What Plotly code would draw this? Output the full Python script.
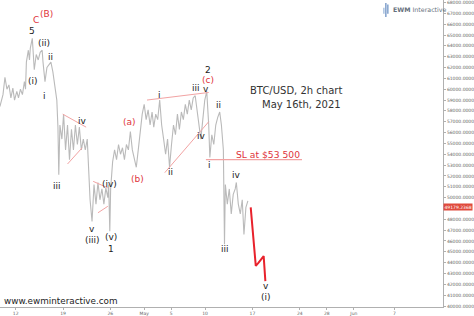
import plotly.graph_objects as go

# ---------------- data ----------------
price_dates = [
    "2021-04-09 16:00", "2021-04-10 03:00", "2021-04-10 10:00", "2021-04-10 17:00", "2021-04-11 00:00",
    "2021-04-11 07:00", "2021-04-11 14:00", "2021-04-11 20:00", "2021-04-12 04:00", "2021-04-12 10:00",
    "2021-04-12 17:00", "2021-04-13 00:00", "2021-04-13 07:00", "2021-04-13 11:00", "2021-04-13 14:00",
    "2021-04-13 21:00", "2021-04-14 01:00", "2021-04-14 04:00", "2021-04-14 11:00", "2021-04-14 15:00",
    "2021-04-14 18:00", "2021-04-15 01:00", "2021-04-15 08:00", "2021-04-15 15:00", "2021-04-15 22:00",
    "2021-04-16 01:00", "2021-04-16 08:00", "2021-04-16 15:00", "2021-04-16 22:00", "2021-04-17 05:00",
    "2021-04-17 12:00", "2021-04-17 19:00", "2021-04-18 02:00", "2021-04-18 06:00", "2021-04-18 09:00",
    "2021-04-18 13:00", "2021-04-18 20:00", "2021-04-19 02:00", "2021-04-19 09:00", "2021-04-19 16:00",
    "2021-04-19 23:00", "2021-04-20 06:00", "2021-04-20 13:00", "2021-04-20 20:00", "2021-04-21 03:00",
    "2021-04-21 10:00", "2021-04-21 17:00", "2021-04-22 00:00", "2021-04-22 07:00", "2021-04-22 14:00",
    "2021-04-22 17:00", "2021-04-23 00:00", "2021-04-23 07:00", "2021-04-23 14:00", "2021-04-23 21:00",
    "2021-04-24 04:00", "2021-04-24 11:00", "2021-04-24 18:00", "2021-04-25 01:00", "2021-04-25 08:00",
    "2021-04-25 15:00", "2021-04-25 18:00", "2021-04-25 22:00", "2021-04-26 01:00", "2021-04-26 08:00",
    "2021-04-26 15:00", "2021-04-26 22:00", "2021-04-27 05:00", "2021-04-27 12:00", "2021-04-27 19:00",
    "2021-04-28 02:00", "2021-04-28 09:00", "2021-04-28 16:00", "2021-04-28 23:00", "2021-04-29 06:00",
    "2021-04-29 13:00", "2021-04-29 20:00", "2021-04-30 03:00", "2021-04-30 10:00", "2021-04-30 17:00",
    "2021-05-01 00:00", "2021-05-01 07:00", "2021-05-01 14:00", "2021-05-01 21:00", "2021-05-02 04:00",
    "2021-05-02 10:00", "2021-05-02 17:00", "2021-05-03 00:00", "2021-05-03 07:00", "2021-05-03 14:00",
    "2021-05-03 21:00", "2021-05-04 04:00", "2021-05-04 11:00", "2021-05-04 18:00", "2021-05-05 01:00",
    "2021-05-05 08:00", "2021-05-05 15:00", "2021-05-05 22:00", "2021-05-06 05:00", "2021-05-06 12:00",
    "2021-05-06 19:00", "2021-05-07 02:00", "2021-05-07 09:00", "2021-05-07 16:00", "2021-05-07 23:00",
    "2021-05-08 06:00", "2021-05-08 13:00", "2021-05-08 20:00", "2021-05-09 02:00", "2021-05-09 09:00",
    "2021-05-09 16:00", "2021-05-09 23:00", "2021-05-10 06:00", "2021-05-10 10:00", "2021-05-10 13:00",
    "2021-05-10 17:00", "2021-05-11 00:00", "2021-05-11 07:00", "2021-05-11 14:00", "2021-05-11 21:00",
    "2021-05-12 04:00", "2021-05-12 10:00", "2021-05-12 17:00", "2021-05-12 21:00", "2021-05-13 00:00",
    "2021-05-13 07:00", "2021-05-13 14:00", "2021-05-13 21:00", "2021-05-14 04:00", "2021-05-14 11:00",
    "2021-05-14 15:00", "2021-05-14 22:00", "2021-05-15 05:00", "2021-05-15 12:00", "2021-05-15 18:00",
    "2021-05-16 01:00", "2021-05-16 08:00",
]
price_values = [
    58400, 59500, 61100, 60000, 60400,
    59200, 60100, 59000, 59800, 59200,
    60000, 59500, 60700, 60000, 62500,
    63600, 62700, 63800, 64700, 63200,
    61800, 63200, 62700, 63400, 63600,
    62500, 60700, 62000, 62300, 62500,
    61600, 60400, 59000, 56500, 52100,
    56700, 55400, 57700, 54400, 56700,
    53500, 56300, 54400, 56700, 54900,
    56500, 54400, 55400, 54400, 55400,
    53500, 49800, 47800, 51200, 49400,
    51400, 49800, 50800, 49400, 50900,
    50000, 51200, 46900, 50800, 53300,
    54400, 53500, 54900, 54000, 54600,
    53500, 54900, 54400, 56100, 54400,
    53500, 52800, 54400, 56300, 57700,
    58600, 57200, 58100, 56700, 57900,
    56500, 57700, 57200, 59000, 56700,
    55400, 54000, 55400, 52800, 54900,
    56700, 55800, 57700, 56300, 57900,
    57200, 58600, 57700, 59000, 58100,
    59200, 59400, 58100, 56700, 55400,
    57200, 59000, 59800, 58100, 56700,
    53700, 55800, 54900, 56700, 57400,
    57900, 56700, 54400, 45700, 51200,
    49400, 50800, 48500, 50300, 50800,
    51400, 49400, 48500, 49800, 46600,
    49100, 49700,
]

projection_dates = ["2021-05-16 18:00", "2021-05-17 12:00", "2021-05-17 22:00", "2021-05-18 16:00", "2021-05-18 22:00"]
projection_values = [49100, 43700, 44000, 44600, 42300]

trend_lines = [
    (["2021-04-18 23:00", "2021-04-22 10:00"], [57700, 56500]),
    (["2021-04-19 16:00", "2021-04-21 20:00"], [53100, 54600]),
    (["2021-04-23 11:00", "2021-04-25 15:00"], [51500, 50900]),
    (["2021-04-24 04:00", "2021-04-25 15:00"], [48600, 49200]),
    (["2021-05-01 10:00", "2021-05-10 13:00"], [59000, 59700]),
    (["2021-05-04 01:00", "2021-05-10 13:00"], [52300, 57000]),
]
stop_loss_dates = ["2021-05-10 03:00", "2021-05-24 08:00"]
stop_loss_value = 53500

# wave labels: text, date, price, colour key
wave_labels = [
    ("5", "2021-04-14 11:00", 65380, "k"),
    ("C", "2021-04-15 01:00", 66390, "r"),
    ("(B)", "2021-04-16 12:00", 66940, "r"),
    ("(ii)", "2021-04-16 05:00", 64280, "k"),
    ("(i)", "2021-04-14 15:00", 60780, "k"),
    ("ii", "2021-04-17 05:00", 62990, "k"),
    ("i", "2021-04-16 08:00", 59400, "k"),
    ("iv", "2021-04-21 20:00", 57100, "k"),
    ("iii", "2021-04-18 02:00", 51040, "k"),
    ("(a)", "2021-04-28 20:00", 57010, "r"),
    ("(b)", "2021-04-29 23:00", 51680, "r"),
    ("(iv)", "2021-04-25 22:00", 51220, "k"),
    ("v", "2021-04-23 07:00", 47080, "k"),
    ("(iii)", "2021-04-23 07:00", 46070, "k"),
    ("(v)", "2021-04-26 01:00", 46350, "k"),
    ("1", "2021-04-26 01:00", 45240, "k"),
    ("i", "2021-05-03 07:00", 59500, "k"),
    ("iii", "2021-05-08 16:00", 60140, "k"),
    ("v", "2021-05-10 03:00", 60050, "k"),
    ("(c)", "2021-05-10 10:00", 60870, "r"),
    ("2", "2021-05-10 10:00", 61790, "k"),
    ("ii", "2021-05-12 00:00", 58580, "k"),
    ("iv", "2021-05-09 13:00", 55720, "k"),
    ("ii", "2021-05-04 22:00", 52320, "k"),
    ("i", "2021-05-10 17:00", 52970, "k"),
    ("SL at $53 500", "2021-05-19 07:00", 53980, "r"),
    ("iv", "2021-05-14 15:00", 52050, "k"),
    ("iii", "2021-05-12 21:00", 45240, "k"),
    ("v", "2021-05-19 02:00", 41840, "k"),
    ("(i)", "2021-05-19 02:00", 40830, "k"),
]

x_tick_dates = ["2021-04-12", "2021-04-19", "2021-04-26", "2021-05-01", "2021-05-05", "2021-05-10",
                "2021-05-17", "2021-05-24", "2021-05-28", "2021-06-01", "2021-06-07"]
x_tick_text = ["12", "19", "26", "May", "5", "10", "17", "24", "28", "Jun", "7"]
y_tick_values = list(range(40000, 68001, 1000))
last_price_text = "49179.2368"
last_price_value = 49179
# the 49000 label sits under the last-price tag in the reference, so it is not shown
y_tick_text = ["" if v == 49000 else f"{v}.0000" for v in y_tick_values]

# ---------------- figure ----------------
RED = "#e0333b"
PINK = "#f2a3a3"
fig = go.Figure()

fig.add_trace(go.Scatter(x=price_dates, y=price_values, mode="lines",
                         line=dict(color="#bababa", width=1.1), hoverinfo="skip"))
for xs, ys in trend_lines:
    fig.add_trace(go.Scatter(x=xs, y=ys, mode="lines", line=dict(color=PINK, width=1), hoverinfo="skip"))
fig.add_trace(go.Scatter(x=stop_loss_dates, y=[stop_loss_value] * 2, mode="lines",
                         line=dict(color=PINK, width=1.2), hoverinfo="skip"))
fig.add_trace(go.Scatter(x=projection_dates, y=projection_values, mode="lines",
                         line=dict(color="#e8222c", width=2), hoverinfo="skip"))

annotations = []
for text, d, p, c in wave_labels:
    size = 9.2 if text.startswith("SL") else 9
    annotations.append(dict(x=d, y=p, xref="x", yref="y", text=text, showarrow=False,
                            font=dict(family="DejaVu Sans", size=size,
                                      color=RED if c == "r" else "#222222"),
                            xanchor="center", yanchor="middle"))

annotations += [
    dict(x=0.777, y=0.731, xref="paper", yref="paper", text="BTC/USD, 2h chart", showarrow=False,
         font=dict(family="DejaVu Sans", size=10, color="#333333")),
    dict(x=0.775, y=0.685, xref="paper", yref="paper", text="May 16th, 2021", showarrow=False,
         font=dict(family="DejaVu Sans", size=10, color="#333333")),
    dict(x=0.882, y=0.968, xref="paper", yref="paper", xanchor="left", yanchor="middle",
         text="<b>EWM</b> Interactive", showarrow=False,
         font=dict(family="DejaVu Sans", size=6.3, color="#66707c")),
    dict(x=0.004, y=0.019, xref="paper", yref="paper", xanchor="left", yanchor="middle",
         text="www.ewminteractive.com", showarrow=False,
         font=dict(family="DejaVu Sans", size=8.8, color="#222222")),
    dict(x=1.0, y=last_price_value, xref="paper", yref="y", xanchor="left", yanchor="middle",
         text=last_price_text, showarrow=False, bgcolor="#e04a3c", borderpad=0.5,
         font=dict(family="DejaVu Sans", size=4.5, color="#ffffff")),
]

shapes = []
for i, (h0, h1) in enumerate([(0.955, 0.975), (0.955, 0.99), (0.955, 0.985)]):
    x0 = 0.8655 + i * 0.0045
    shapes.append(dict(type="rect", xref="paper", yref="paper", x0=x0, x1=x0 + 0.0022,
                       y0=h0 - (0.01 if i == 1 else 0), y1=h1, line=dict(width=0),
                       fillcolor="#3f6fb0" if i != 0 else "#7fa3d0"))

fig.update_layout(
    width=474, height=316,
    margin=dict(l=0, r=22, t=0, b=8),
    plot_bgcolor="white", paper_bgcolor="white",
    showlegend=False,
    annotations=annotations,
    shapes=shapes,
    xaxis=dict(type="date", range=["2021-04-09 16:24", "2021-06-14 04:20"],
               tickvals=x_tick_dates, ticktext=x_tick_text, showgrid=False, zeroline=False,
               showline=True, linecolor="#b0b0b0", linewidth=1, ticks="outside", ticklen=2,
               tickcolor="#b0b0b0", tickfont=dict(family="DejaVu Sans", size=4.5, color="#666666")),
    yaxis=dict(range=[39909, 68230], side="right", tickvals=y_tick_values, ticktext=y_tick_text,
               showgrid=False, zeroline=False, showline=True, linecolor="#b0b0b0", linewidth=1,
               ticks="outside", ticklen=2, tickcolor="#b0b0b0",
               tickfont=dict(family="DejaVu Sans", size=4.5, color="#666666")),
)

fig.write_html("out.html")
